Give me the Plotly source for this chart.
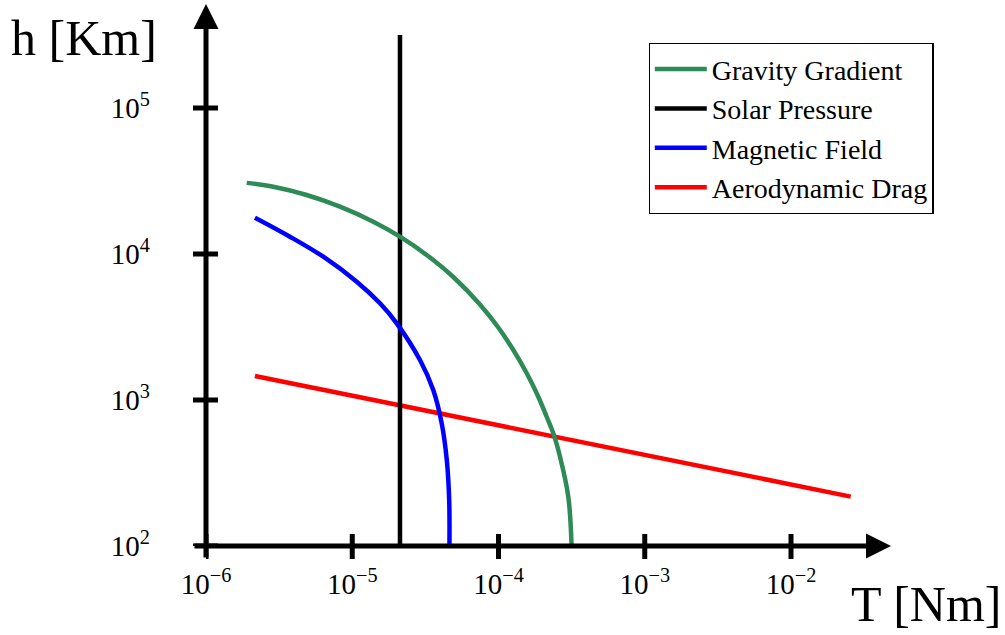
import plotly.graph_objects as go

# ---------------- data ----------------
gg_T = [1.898e-6, 2.885e-6, 4.88e-6, 8.24e-6, 1.393e-5, 2.12e-5, 3.229e-5, 4.91e-5, 7.47e-5,
        9.97e-5, 1.263e-4, 1.56e-4, 1.871e-4, 2.135e-4, 2.37e-4, 2.633e-4, 3.00e-4, 3.16e-4]
gg_h = [30700, 28910, 25360, 21090, 16640, 13140, 9844, 6958, 4510,
        3138, 2200, 1524, 1053, 768, 591, 409, 218, 100]

mf_T = [2.16e-6, 3.75e-6, 6.34e-6, 1.073e-5, 1.548e-5, 2.014e-5, 2.905e-5, 3.58e-5,
        4.09e-5, 4.43e-5, 4.60e-5, 4.62e-5]
mf_h = [17730, 13140, 9583, 6462, 4596, 3352, 1879, 1171,
        692, 388, 207, 100]

sp_T = [2.12e-5, 2.12e-5]
sp_h = [100, 3.16e5]

ad_T = [2.16e-6, 2.56e-2]
ad_h = [1459, 218]

x_ticks = [1e-6, 1e-5, 1e-4, 1e-3, 1e-2]
x_tick_labels = ["10<sup>−6</sup>", "10<sup>−5</sup>", "10<sup>−4</sup>", "10<sup>−3</sup>", "10<sup>−2</sup>"]
y_ticks = [1e2, 1e3, 1e4, 1e5]
y_tick_labels = ["10<sup>2</sup>", "10<sup>3</sup>", "10<sup>4</sup>", "10<sup>5</sup>"]

series_names = ["Gravity Gradient", "Solar Pressure", "Magnetic Field", "Aerodynamic Drag"]
series_colors = ["#2E8B57", "#000000", "#0000FF", "#FF0000"]

# ---------------- layout geometry ----------------
W, H = 1005, 635
ML, MR, MT, MB = 206, 115, 5, 89
PW, PH = W - ML - MR, H - MT - MB
PX_PER_DEC = 146.25
PY_PER_DEC = 146.0
FONT = "Liberation Serif"


def px_to_paper_x(px):
    return (px - ML) / PW


def py_to_paper_y(py):
    return 1 - (py - MT) / PH


fig = go.Figure()

data = {
    "Gravity Gradient": (gg_T, gg_h, "spline"),
    "Solar Pressure": (sp_T, sp_h, "linear"),
    "Magnetic Field": (mf_T, mf_h, "spline"),
    "Aerodynamic Drag": (ad_T, ad_h, "linear"),
}
draw_order = ["Aerodynamic Drag", "Solar Pressure", "Gravity Gradient", "Magnetic Field"]
for name in draw_order:
    xs, ys, shape = data[name]
    idx = series_names.index(name)
    line = dict(color=series_colors[idx], width=4.5, shape=shape, simplify=False)
    if shape == "spline":
        line["smoothing"] = 1.0
    fig.add_trace(go.Scatter(x=xs, y=ys, mode="lines", name=name, line=line,
                             legendrank=idx + 1))

# tick marks crossing the axes
for v in x_ticks:
    fig.add_shape(type="line", xref="x", yref="paper", x0=v, x1=v,
                  ysizemode="pixel", yanchor=0, y0=-13, y1=12,
                  line=dict(color="black", width=5), layer="above")
for v in y_ticks:
    fig.add_shape(type="line", yref="y", xref="paper", y0=v, y1=v,
                  xsizemode="pixel", xanchor=0, x0=-13, x1=12,
                  line=dict(color="black", width=5), layer="above")

# axis lines with arrow heads
fig.add_annotation(xref="paper", yref="paper", x=px_to_paper_x(891), y=0,
                   ax=-(891 - 193), ay=0, text="", showarrow=True,
                   arrowhead=2, arrowwidth=5, arrowsize=1, arrowcolor="black", standoff=0)
fig.add_annotation(xref="paper", yref="paper", x=0, y=py_to_paper_y(4),
                   ax=0, ay=(559 - 4), text="", showarrow=True,
                   arrowhead=2, arrowwidth=5, arrowsize=1, arrowcolor="black", standoff=0)

# axis titles
fig.add_annotation(xref="paper", yref="paper", x=px_to_paper_x(84), y=py_to_paper_y(38),
                   text="h [Km]", showarrow=False, xanchor="center", yanchor="middle",
                   font=dict(family=FONT, size=50, color="black"))
fig.add_annotation(xref="paper", yref="paper", x=px_to_paper_x(1003), y=py_to_paper_y(604),
                   text="T [Nm]", showarrow=False, xanchor="right", yanchor="middle",
                   font=dict(family=FONT, size=50, color="black"))

fig.update_layout(
    width=W, height=H,
    margin=dict(l=ML, r=MR, t=MT, b=MB, pad=0, autoexpand=False),
    paper_bgcolor="white", plot_bgcolor="white",
    font=dict(family=FONT, color="black"),
    xaxis=dict(type="log", range=[-6, -6 + PW / PX_PER_DEC], showgrid=False, zeroline=False,
               showline=False, ticks="", tickvals=x_ticks, ticktext=x_tick_labels,
               tickfont=dict(family=FONT, size=29, color="black"), ticklabelstandoff=18,
               automargin=False),
    yaxis=dict(type="log", range=[2, 2 + PH / PY_PER_DEC], showgrid=False, zeroline=False,
               showline=False, ticks="", tickvals=y_ticks, ticktext=y_tick_labels,
               tickfont=dict(family=FONT, size=29, color="black"), ticklabelstandoff=55,
               automargin=False),
    legend=dict(x=px_to_paper_x(791), y=py_to_paper_y(43), xanchor="center", yanchor="top",
                bgcolor="white", bordercolor="black", borderwidth=1.3, itemwidth=52,
                font=dict(family=FONT, size=28, color="black"), tracegroupgap=0),
    showlegend=True,
)

fig.write_html("out.html", config={"displayModeBar": False},
               post_script="document.body.style.margin='0';")
